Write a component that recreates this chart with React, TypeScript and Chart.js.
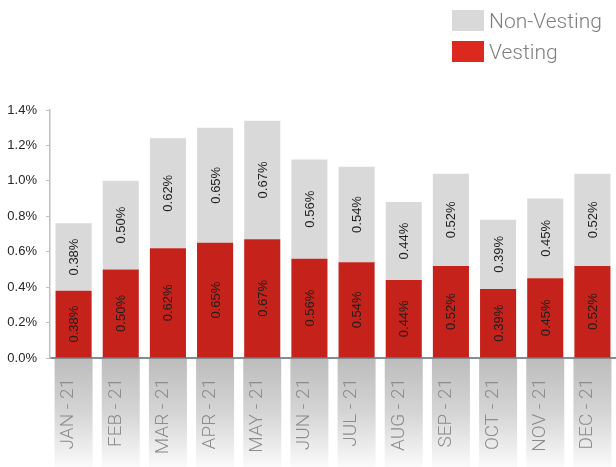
import { useEffect, useRef } from "react";
import { Chart, registerables } from "chart.js";

Chart.register(...registerables);

const categories = [
  "JAN - 21", "FEB - 21", "MAR - 21", "APR - 21", "MAY - 21", "JUN - 21",
  "JUL - 21", "AUG - 21", "SEP - 21", "OCT - 21", "NOV - 21", "DEC - 21",
];
const vesting = [0.38, 0.5, 0.62, 0.65, 0.67, 0.56, 0.54, 0.44, 0.52, 0.39, 0.45, 0.52];
const nonVesting = [0.38, 0.5, 0.62, 0.65, 0.67, 0.56, 0.54, 0.44, 0.52, 0.39, 0.45, 0.52];
const seriesNames = ["Vesting", "Non-Vesting"];
const yMin = 0;
const yMax = 1.4;
const yStep = 0.2;

const RED = "#c4221b";
const GRAY = "#d9d9d9";
const LEGEND_RED = "#dc291e";

const labelBoxes = {
  id: "labelBoxes",
  beforeDraw(chart: any) {
    const { ctx } = chart;
    const xs = chart.scales.x;
    const top = xs.top + 1;
    const bottom = chart.height;
    ctx.save();
    const g = ctx.createLinearGradient(0, top, 0, bottom);
    g.addColorStop(0, "#bdbdbd");
    g.addColorStop(0.5, "#d5d5d5");
    g.addColorStop(1, "#fafafa");
    ctx.fillStyle = g;
    categories.forEach((_, i) => {
      const cx = xs.getPixelForValue(i);
      ctx.fillRect(cx - 19, top, 38, bottom - top);
    });
    ctx.restore();
  },
};

const barLabels = {
  id: "barLabels",
  afterDatasetsDraw(chart: any) {
    const { ctx } = chart;
    ctx.save();
    ctx.font = "13px 'Liberation Sans', Arial, sans-serif";
    ctx.fillStyle = "#1e1e1e";
    ctx.textAlign = "center";
    ctx.textBaseline = "middle";
    chart.data.datasets.forEach((ds: any, di: number) => {
      const meta = chart.getDatasetMeta(di);
      meta.data.forEach((el: any, i: number) => {
        const { x, y, base } = el.getProps(["x", "y", "base"], true);
        const cy = (y + base) / 2;
        ctx.save();
        ctx.translate(x + 1, cy);
        ctx.rotate(-Math.PI / 2);
        ctx.fillText(ds.data[i].toFixed(2) + "%", 0, 0);
        ctx.restore();
      });
    });
    ctx.restore();
  },
};

const customLegend = {
  id: "customLegend",
  afterDraw(chart: any) {
    const { ctx } = chart;
    const items = [
      { text: chart.data.datasets[1].label, color: GRAY },
      { text: chart.data.datasets[0].label, color: LEGEND_RED },
    ];
    ctx.save();
    ctx.font = "300 21px Roboto, sans-serif";
    ctx.textAlign = "left";
    ctx.textBaseline = "alphabetic";
    items.forEach((it, k) => {
      const y = 10 + k * 31;
      ctx.fillStyle = it.color;
      ctx.fillRect(452, y, 32, 21);
      ctx.fillStyle = "#7f7f7f";
      ctx.fillText(it.text, 489, y + 18);
    });
    ctx.restore();
  },
};

export default function App() {
  const ref = useRef<HTMLCanvasElement | null>(null);

  useEffect(() => {
    if (!ref.current) return;
    const chart = new Chart(ref.current, {
      type: "bar",
      data: {
        labels: categories,
        datasets: [
          {
            label: seriesNames[0],
            data: vesting,
            backgroundColor: RED,
            borderWidth: 0,
            barPercentage: 1,
            categoryPercentage: 0.765,
          },
          {
            label: seriesNames[1],
            data: nonVesting,
            backgroundColor: GRAY,
            borderWidth: 0,
            barPercentage: 1,
            categoryPercentage: 0.765,
          },
        ],
      },
      options: {
        responsive: false,
        animation: false,
        layout: { padding: { top: 110, left: 0, right: 0, bottom: 0 } },
        plugins: {
          legend: { display: false },
          tooltip: { enabled: false },
        },
        scales: {
          x: {
            stacked: true,
            grid: { display: false, drawTicks: false },
            border: { color: "#858b93", width: 2 },
            ticks: {
              minRotation: 90,
              maxRotation: 90,
              autoSkip: false,
              padding: 20,
              labelOffset: -5,
              color: "#8c8c8c",
              font: { family: "Roboto", size: 19, weight: 300 },
            },
            afterFit(scale: any) {
              scale.height = 109;
              scale.paddingLeft = 0;
              scale.paddingRight = 0;
            },
          },
          y: {
            stacked: true,
            min: yMin,
            max: yMax,
            grid: { drawOnChartArea: false, drawTicks: true, tickLength: 4, color: "#bfbfbf" },
            border: { color: "#bfbfbf", width: 1.5 },
            ticks: {
              stepSize: yStep,
              padding: 9,
              color: "#262626",
              font: { family: "'Liberation Sans', Arial, sans-serif", size: 13 },
              callback: (v: any) => Number(v).toFixed(1) + "%",
            },
            afterFit(scale: any) {
              scale.width = 50;
            },
          },
        },
      },
      plugins: [labelBoxes, barLabels, customLegend],
    });
    return () => chart.destroy();
  }, []);

  return (
    <div style={{ position: "fixed", left: 0, top: 0, width: 616, height: 467, background: "#fff" }}>
      <canvas ref={ref} width={616} height={467} />
    </div>
  );
}
